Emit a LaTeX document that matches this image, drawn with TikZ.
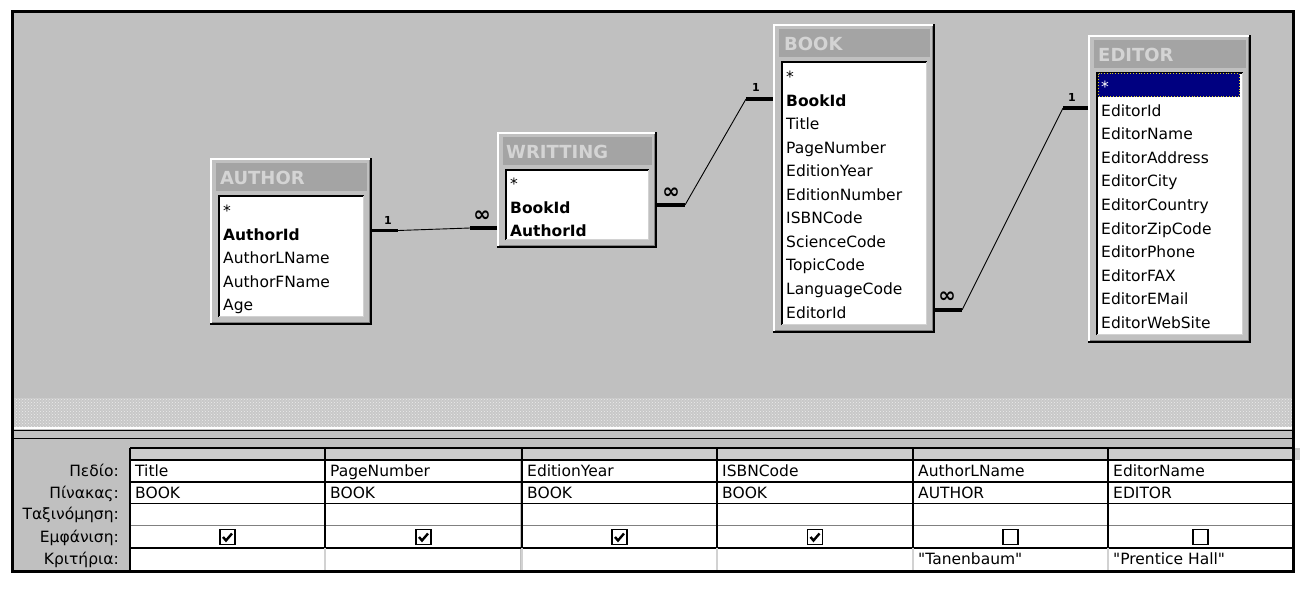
\documentclass[tikz,border=0pt]{standalone}
\usepackage{fontspec}
\setmainfont{DejaVu Sans}
\newfontfamily\rawfont[Ligatures=TeXOff]{DejaVu Sans}
\usetikzlibrary{calc,patterns}
\definecolor{wingray}{RGB}{192,192,192}
\definecolor{titlebar}{RGB}{164,164,164}
\definecolor{titletext}{RGB}{212,212,212}
\definecolor{hatch}{RGB}{200,200,200}
\definecolor{selnavy}{RGB}{0,0,128}
\definecolor{darkedge}{RGB}{128,128,128}
\definecolor{lightline}{RGB}{210,210,210}
\definecolor{headcell}{RGB}{204,204,204}
\newcommand\fs{\fontsize{15.5}{18}\selectfont}
\newcommand\dbframe[4]{%
  \fill[wingray] (#1,#2) rectangle (#3,#4);
  \draw[white,line width=1.5pt] (#1+0.75,#4-1) -- (#1+0.75,#2+0.75) -- (#3-1,#2+0.75);
  \draw[black,line width=2pt] (#1,#4-1) -- (#3-1,#4-1) -- (#3-1,#2);
  \draw[darkedge,line width=1pt] (#1+2,#4-2.5) -- (#3-2.5,#4-2.5) -- (#3-2.5,#2+2);
  \fill[titlebar] (#1+6,#2+5) rectangle (#3-5,#2+33);
  \fill[white] (#1+8,#2+37) rectangle (#3-8,#4-8);
  \draw[black,line width=2pt] (#1+9,#4-8) -- (#1+9,#2+38) -- (#3-8,#2+38);
  \draw[lightline,line width=1.5pt] (#1+9,#4-8.75) -- (#3-8.75,#4-8.75) -- (#3-8.75,#2+38);
}
\tikzset{
  field/.style={anchor=base west, inner sep=0pt, font=\fs},
  keyfield/.style={field, font=\fs\bfseries},
  ttl/.style={anchor=base west, inner sep=0pt, text=titletext, font=\fontsize{18}{20}\selectfont\bfseries},
  glabel/.style={anchor=base east, inner sep=0pt, font=\fs},
  cell/.style={anchor=base west, inner sep=0pt, font=\fs},
  thickrel/.style={line width=3.6pt},
  thinrel/.style={line width=0.9pt},
  cardone/.style={inner sep=0pt, font=\fontsize{11}{12}\selectfont\bfseries},
  cardmany/.style={inner sep=0pt, font=\fontsize{21}{22}\selectfont\bfseries},
  chk/.style={draw=black, line width=1.4pt, fill=white, minimum width=15pt, minimum height=15pt, inner sep=0pt},
}
\begin{document}
\begin{tikzpicture}[x=1pt,y=-1pt]
\useasboundingbox (0,0) rectangle (1300,608);
\fill[white] (0,0) rectangle (1300,608);
% main window
\fill[wingray] (11,10) rectangle (1295,573);
\fill[hatch] (14,398) rectangle (1292,427);
\fill[pattern=crosshatch dots, pattern color=white!85!gray] (14,398) rectangle (1292,427);
\draw[white,line width=1.2pt] (14,428) -- (1292,428);
\draw[black,line width=1.2pt] (14,430.5) -- (1292,430.5);
\draw[black,line width=1.6pt] (14,438.5) -- (1292,438.5);
% query grid
\foreach \cx in {130,325,522,717,913,1108}{
  \fill[headcell] (\cx,448) rectangle (\cx+195,460);
  \fill[white] (\cx,460) rectangle (\cx+195,570);
}
\draw[black,line width=1.4pt] (130,448) -- (1292,448);
\foreach \ry in {460,482,503.5,548}{\draw[black,line width=1.3pt] (130,\ry) -- (1292,\ry);}
\draw[darkedge,line width=1.2pt] (130,525.5) -- (1292,525.5);
\foreach \cx in {130,325,522,717,913,1108}{
  \draw[black,line width=1.4pt] (\cx,448) -- (\cx,548);
  \draw[lightline,line width=1.2pt] (\cx,548) -- (\cx,570);
}
\draw[black,line width=1.4pt] (130,548) -- (130,570);
% grid labels
\node[glabel] (lField) at (119,476.5) {Πεδίο:};
\node[glabel] (lTable) at (119,498) {Πίνακας:};
\node[glabel] (lSort) at (119,519.5) {Ταξινόμηση:};
\node[glabel] (lShow) at (119,542) {Εμφάνιση:};
\node[glabel] (lCrit) at (119,564.5) {Κριτήρια:};
\foreach \cx/\t [count=\i] in {135/Title,330/PageNumber,527/EditionYear,722/ISBNCode,918/AuthorLName,1113/EditorName}{
  \node[cell] (f\i) at (\cx,476.5) {\t};
}
\foreach \cx/\t [count=\i] in {135/BOOK,330/BOOK,527/BOOK,722/BOOK,918/AUTHOR,1113/EDITOR}{
  \node[cell] (t\i) at (\cx,498) {\t};
}
\foreach \cx [count=\i] in {227.5,423.5,619.5,815}{
  \node[chk] (s\i) at (\cx,537) {};
  \draw[black,line width=2.4pt] ($(s\i.center)+(-4.5,0)$) -- ($(s\i.center)+(-1.5,3.5)$) -- ($(s\i.center)+(4.5,-3.5)$);
}
\node[chk] (s5) at (1010.5,537) {};
\node[chk] (s6) at (1200.5,537) {};
\node[cell] (k5) at (918,564.5) {\rawfont "Tanenbaum"};
\node[cell] (k6) at (1113,564.5) {\rawfont "Prentice Hall"};
\draw[black,line width=3pt] (12.5,11.5) rectangle (1293.5,571.5);
% AUTHOR
\dbframe{210}{158}{372}{325}
\node[ttl] (tAuthor) at (220,184) {AUTHOR};
\foreach \t/\st [count=\i from 0] in {*/field,AuthorId/keyfield,AuthorLName/field,AuthorFName/field,Age/field}{
  \node[\st] (a\i) at (223,216.5+\i*23.55) {\t};
}
% WRITTING
\dbframe{497}{132}{657}{248}
\node[ttl] (tWrit) at (506,158) {WRITTING};
\foreach \t/\st [count=\i from 0] in {*/field,BookId/keyfield,AuthorId/keyfield}{
  \node[\st] (w\i) at (510,189.5+\i*23.55) {\t};
}
% BOOK
\dbframe{773}{24}{935}{333}
\node[ttl] (tBook) at (784,50) {BOOK};
\foreach \t/\st [count=\i from 0] in {*/field,BookId/keyfield,Title/field,PageNumber/field,EditionYear/field,EditionNumber/field,ISBNCode/field,ScienceCode/field,TopicCode/field,LanguageCode/field,EditorId/field}{
  \node[\st] (b\i) at (786,82.5+\i*23.55) {\t};
}
% EDITOR
\dbframe{1088}{35}{1251}{343}
\fill[selnavy] (1098,73) rectangle (1240,97);
\draw[yellow!85!black,dotted,line width=0.9pt] (1098.5,73.5) rectangle (1239.5,96.5);
\node[ttl] (tEditor) at (1098,61) {EDITOR};
\node[field,text=white] (e0) at (1101,92.5) {*};
\foreach \t [count=\i] in {EditorId,EditorName,EditorAddress,EditorCity,EditorCountry,EditorZipCode,EditorPhone,EditorFAX,EditorEMail,EditorWebSite}{
  \node[field] (e\i) at (1101,92.5+\i*23.6) {\t};
}
% relationships
\coordinate (r1s) at (372,230.5);
\coordinate (r1e) at (497,228);
\draw[thickrel] (r1s) -- ++(26,0) coordinate (r1a);
\draw[thickrel] (r1e) -- ++(-27,0) coordinate (r1b);
\draw[thinrel] (r1a) -- (r1b);
\node[cardone] (n1a) at (388,220) {1};
\node[cardmany] (n1b) at (482,216) {∞};

\coordinate (r2s) at (657,205);
\coordinate (r2e) at (773,99);
\draw[thickrel] (r2s) -- ++(28,0) coordinate (r2a);
\draw[thickrel] (r2e) -- ++(-27,0) coordinate (r2b);
\draw[thinrel] (r2a) -- (r2b);
\node[cardmany] (n2a) at (671,193) {∞};
\node[cardone] (n2b) at (756,87) {1};

\coordinate (r3s) at (935,310);
\coordinate (r3e) at (1088,108);
\draw[thickrel] (r3s) -- ++(27,0) coordinate (r3a);
\draw[thickrel] (r3e) -- ++(-25,0) coordinate (r3b);
\draw[thinrel] (r3a) -- (r3b);
\node[cardmany] (n3a) at (947,297) {∞};
\node[cardone] (n3b) at (1072,97) {1};
\end{tikzpicture}
\end{document}
